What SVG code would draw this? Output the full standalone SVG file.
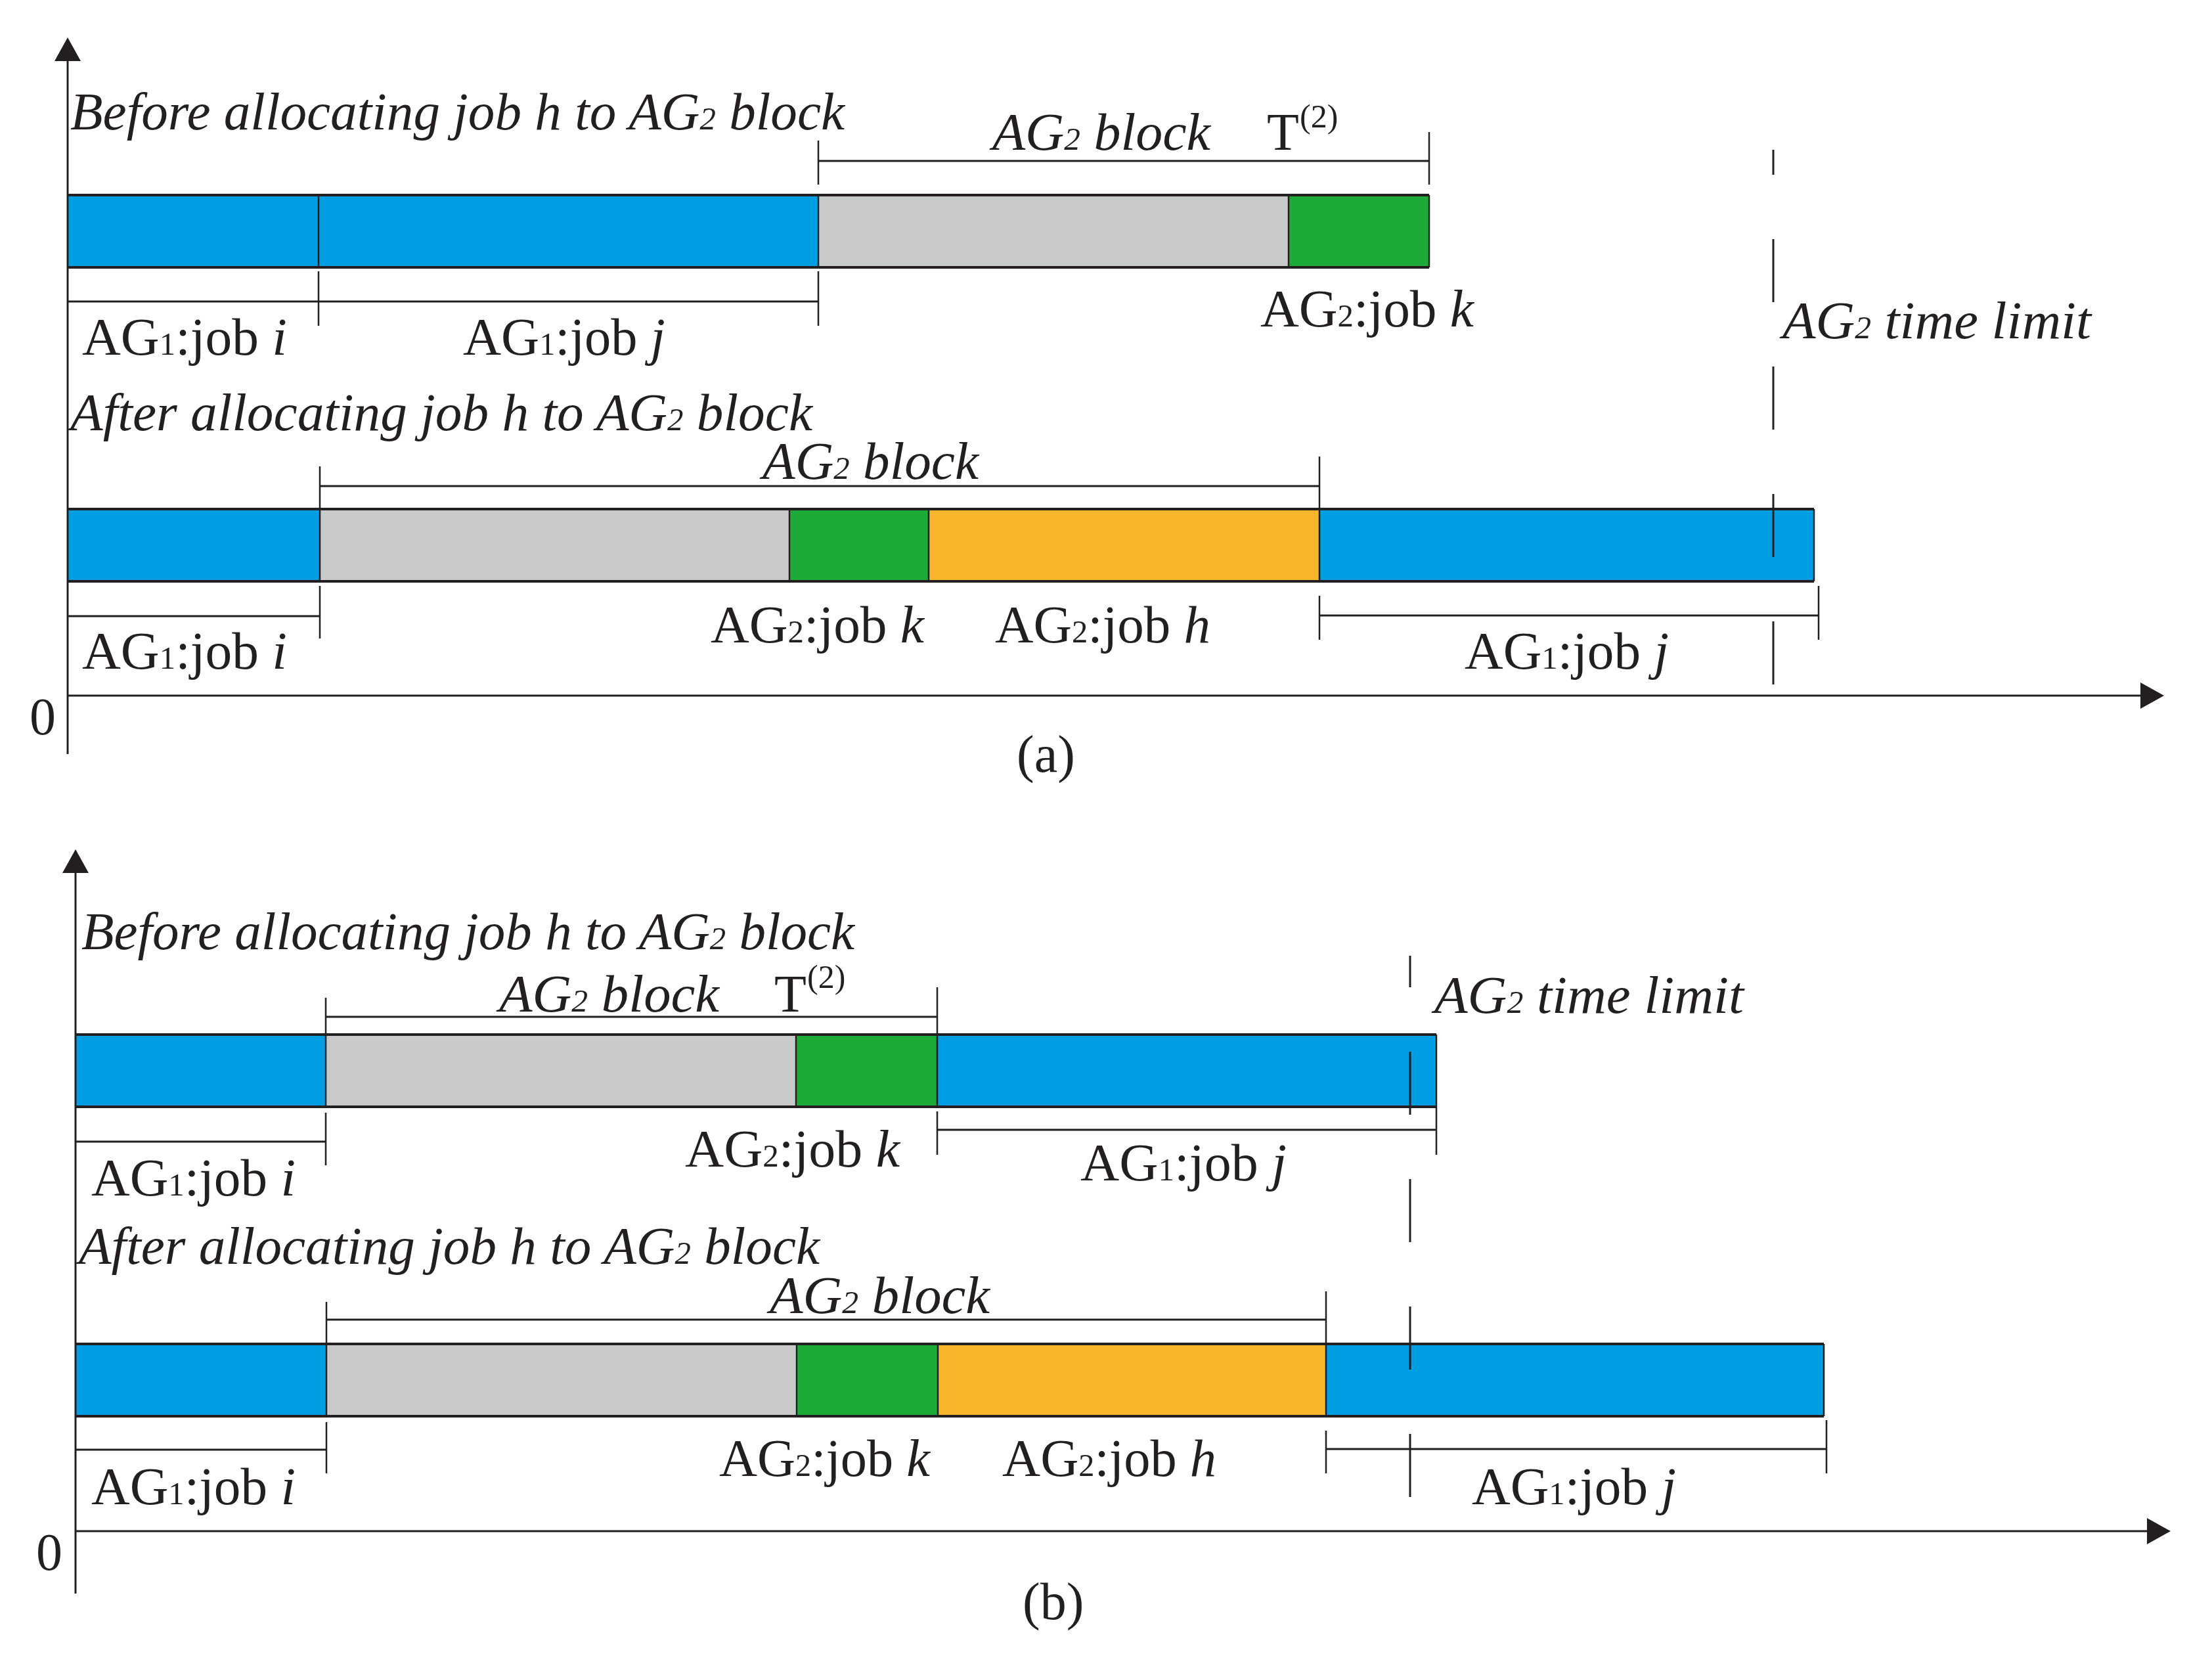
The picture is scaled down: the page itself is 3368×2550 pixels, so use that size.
<svg xmlns="http://www.w3.org/2000/svg" width="3368" height="2550" viewBox="0 0 3368 2550">
<style>
.t{font-family:"Liberation Serif","Times New Roman",serif;font-size:80px;fill:#231f20}
.it{font-style:italic}
.sub{font-size:48px}
.sup{font-size:50px}
.ax{stroke:#231f20;stroke-width:3;fill:none}
.br{stroke:#231f20;stroke-width:3;fill:none}
.tk{stroke:#231f20;stroke-width:2.5;fill:none}
.dash{stroke:#231f20;stroke-width:3;stroke-dasharray:96 98;fill:none}
.edge{stroke:#231f20;stroke-width:4;fill:none}
.div{stroke:#231f20;stroke-width:2.5;fill:none}
.blue{fill:#009fe3}
.gray{fill:#c8caca}
.green{fill:#1eaa39}
.orange{fill:#f7b52c}
</style>
<defs>
<marker id="arr" viewBox="0 0 36 40" refX="0" refY="20" markerWidth="36" markerHeight="40" orient="auto" markerUnits="userSpaceOnUse">
<path d="M0,0 L36,20 L0,40 z" fill="#231f20"/>
</marker>
</defs>
<rect x="0" y="0" width="3368" height="2550" fill="#ffffff"/>

<!-- ===== Panel (a) ===== -->
<g id="a-before-bar">
<rect class="blue" x="103" y="297" width="382" height="110"/>
<rect class="blue" x="485" y="297" width="761" height="110"/>
<rect class="gray" x="1246" y="297" width="716" height="110"/>
<rect class="green" x="1962" y="297" width="214" height="110"/>
<line class="edge" x1="103" y1="297" x2="2176" y2="297"/>
<line class="edge" x1="103" y1="407" x2="2176" y2="407"/>
<line class="div" x1="485" y1="297" x2="485" y2="407"/>
<line class="div" x1="1246" y1="297" x2="1246" y2="407"/>
<line class="div" x1="1962" y1="297" x2="1962" y2="407"/>
<line class="div" x1="2176" y1="297" x2="2176" y2="407"/>
</g>
<g id="a-after-bar">
<rect class="blue" x="103" y="775" width="384" height="110"/>
<rect class="gray" x="487" y="775" width="715" height="110"/>
<rect class="green" x="1202" y="775" width="212" height="110"/>
<rect class="orange" x="1414" y="775" width="595" height="110"/>
<rect class="blue" x="2009" y="775" width="753" height="110"/>
<line class="edge" x1="103" y1="775" x2="2762" y2="775"/>
<line class="edge" x1="103" y1="885" x2="2762" y2="885"/>
<line class="div" x1="487" y1="775" x2="487" y2="885"/>
<line class="div" x1="1202" y1="775" x2="1202" y2="885"/>
<line class="div" x1="1414" y1="775" x2="1414" y2="885"/>
<line class="div" x1="2009" y1="775" x2="2009" y2="885"/>
<line class="div" x1="2762" y1="775" x2="2762" y2="885"/>
</g>

<!-- ===== Panel (b) ===== -->
<g id="b-before-bar">
<rect class="blue" x="115" y="1575" width="381" height="110"/>
<rect class="gray" x="496" y="1575" width="716" height="110"/>
<rect class="green" x="1212" y="1575" width="215" height="110"/>
<rect class="blue" x="1427" y="1575" width="760" height="110"/>
<line class="edge" x1="115" y1="1575" x2="2187" y2="1575"/>
<line class="edge" x1="115" y1="1685" x2="2187" y2="1685"/>
<line class="div" x1="496" y1="1575" x2="496" y2="1685"/>
<line class="div" x1="1212" y1="1575" x2="1212" y2="1685"/>
<line class="div" x1="1427" y1="1575" x2="1427" y2="1685"/>
<line class="div" x1="2187" y1="1575" x2="2187" y2="1685"/>
</g>
<g id="b-after-bar">
<rect class="blue" x="115" y="2046" width="382" height="110"/>
<rect class="gray" x="497" y="2046" width="716" height="110"/>
<rect class="green" x="1213" y="2046" width="215" height="110"/>
<rect class="orange" x="1428" y="2046" width="591" height="110"/>
<rect class="blue" x="2019" y="2046" width="758" height="110"/>
<line class="edge" x1="115" y1="2046" x2="2777" y2="2046"/>
<line class="edge" x1="115" y1="2156" x2="2777" y2="2156"/>
<line class="div" x1="497" y1="2046" x2="497" y2="2156"/>
<line class="div" x1="1213" y1="2046" x2="1213" y2="2156"/>
<line class="div" x1="1428" y1="2046" x2="1428" y2="2156"/>
<line class="div" x1="2019" y1="2046" x2="2019" y2="2156"/>
<line class="div" x1="2777" y1="2046" x2="2777" y2="2156"/>
</g>

<g id="connectors">
<!-- axes (a) -->
<line class="ax" x1="103" y1="1148" x2="103" y2="93" marker-end="url(#arr)"/>
<line class="ax" x1="103" y1="1059" x2="3259" y2="1059" marker-end="url(#arr)"/>
<!-- axes (b) -->
<line class="ax" x1="115" y1="2426" x2="115" y2="1329" marker-end="url(#arr)"/>
<line class="ax" x1="115" y1="2331" x2="3269" y2="2331" marker-end="url(#arr)"/>

<!-- brackets (a) before -->
<line class="br" x1="1246" y1="245" x2="2176" y2="245"/>
<line class="tk" x1="1246" y1="214" x2="1246" y2="281"/>
<line class="tk" x1="2176" y1="201" x2="2176" y2="281"/>
<line class="br" x1="103" y1="459" x2="1246" y2="459"/>
<line class="tk" x1="485" y1="413" x2="485" y2="496"/>
<line class="tk" x1="1246" y1="413" x2="1246" y2="496"/>
<!-- brackets (a) after -->
<line class="br" x1="487" y1="740" x2="2009" y2="740"/>
<line class="tk" x1="487" y1="710" x2="487" y2="775"/>
<line class="tk" x1="2009" y1="695" x2="2009" y2="775"/>
<line class="br" x1="103" y1="938" x2="487" y2="938"/>
<line class="tk" x1="487" y1="892" x2="487" y2="972"/>
<line class="br" x1="2009" y1="937" x2="2769" y2="937"/>
<line class="tk" x1="2009" y1="907" x2="2009" y2="974"/>
<line class="tk" x1="2769" y1="892" x2="2769" y2="974"/>
<!-- time limit (a) -->
<line class="dash" x1="2700" y1="228" x2="2700" y2="1042" stroke-dashoffset="58"/>

<!-- brackets (b) before -->
<line class="br" x1="496" y1="1548" x2="1427" y2="1548"/>
<line class="tk" x1="496" y1="1519" x2="496" y2="1575"/>
<line class="tk" x1="1427" y1="1503" x2="1427" y2="1575"/>
<line class="br" x1="115" y1="1738" x2="496" y2="1738"/>
<line class="tk" x1="496" y1="1694" x2="496" y2="1774"/>
<line class="br" x1="1427" y1="1720" x2="2187" y2="1720"/>
<line class="tk" x1="1427" y1="1692" x2="1427" y2="1758"/>
<line class="tk" x1="2187" y1="1685" x2="2187" y2="1758"/>
<!-- brackets (b) after -->
<line class="br" x1="497" y1="2009" x2="2019" y2="2009"/>
<line class="tk" x1="497" y1="1982" x2="497" y2="2046"/>
<line class="tk" x1="2019" y1="1966" x2="2019" y2="2046"/>
<line class="br" x1="115" y1="2207" x2="497" y2="2207"/>
<line class="tk" x1="497" y1="2165" x2="497" y2="2243"/>
<line class="br" x1="2019" y1="2206" x2="2781" y2="2206"/>
<line class="tk" x1="2019" y1="2178" x2="2019" y2="2243"/>
<line class="tk" x1="2781" y1="2162" x2="2781" y2="2243"/>
<!-- time limit (b) -->
<line class="dash" x1="2147" y1="1455" x2="2147" y2="2280" stroke-dashoffset="48"/>
</g>

<g id="labels-a">
<text class="t it" x="107" y="197" textLength="1179" lengthAdjust="spacingAndGlyphs">Before allocating job h to AG<tspan class="sub">2</tspan> block</text>
<text class="t it" x="1511" y="228" textLength="332" lengthAdjust="spacingAndGlyphs">AG<tspan class="sub">2</tspan> block</text>
<text class="t" x="1929" y="228">T</text>
<text class="t sup" x="1979" y="194">(2)</text>
<text class="t" x="125" y="540" textLength="312" lengthAdjust="spacingAndGlyphs">AG<tspan class="sub">1</tspan>:job <tspan class="it">i</tspan></text>
<text class="t" x="705" y="540" textLength="308" lengthAdjust="spacingAndGlyphs">AG<tspan class="sub">1</tspan>:job <tspan class="it">j</tspan></text>
<text class="t" x="1919" y="497" textLength="325" lengthAdjust="spacingAndGlyphs">AG<tspan class="sub">2</tspan>:job <tspan class="it">k</tspan></text>
<text class="t it" x="2714" y="515" textLength="470" lengthAdjust="spacingAndGlyphs">AG<tspan class="sub">2</tspan> time limit</text>
<text class="t it" x="107" y="655" textLength="1130" lengthAdjust="spacingAndGlyphs">After allocating job h to AG<tspan class="sub">2</tspan> block</text>
<text class="t it" x="1161" y="729" textLength="329" lengthAdjust="spacingAndGlyphs">AG<tspan class="sub">2</tspan> block</text>
<text class="t" x="125" y="1018" textLength="312" lengthAdjust="spacingAndGlyphs">AG<tspan class="sub">1</tspan>:job <tspan class="it">i</tspan></text>
<text class="t" x="1082" y="978" textLength="325" lengthAdjust="spacingAndGlyphs">AG<tspan class="sub">2</tspan>:job <tspan class="it">k</tspan></text>
<text class="t" x="1515" y="978" textLength="328" lengthAdjust="spacingAndGlyphs">AG<tspan class="sub">2</tspan>:job <tspan class="it">h</tspan></text>
<text class="t" x="2230" y="1018" textLength="311" lengthAdjust="spacingAndGlyphs">AG<tspan class="sub">1</tspan>:job <tspan class="it">j</tspan></text>
<text class="t" x="45" y="1118">0</text>
<text class="t" x="1548" y="1175">(a)</text>
</g>

<g id="labels-b">
<text class="t it" x="124" y="1445" textLength="1177" lengthAdjust="spacingAndGlyphs">Before allocating job h to AG<tspan class="sub">2</tspan> block</text>
<text class="t it" x="760" y="1540" textLength="335" lengthAdjust="spacingAndGlyphs">AG<tspan class="sub">2</tspan> block</text>
<text class="t" x="1179" y="1540">T</text>
<text class="t sup" x="1229" y="1504">(2)</text>
<text class="t" x="1043" y="1776" textLength="327" lengthAdjust="spacingAndGlyphs">AG<tspan class="sub">2</tspan>:job <tspan class="it">k</tspan></text>
<text class="t" x="139" y="1820" textLength="311" lengthAdjust="spacingAndGlyphs">AG<tspan class="sub">1</tspan>:job <tspan class="it">i</tspan></text>
<text class="t" x="1645" y="1797" textLength="314" lengthAdjust="spacingAndGlyphs">AG<tspan class="sub">1</tspan>:job <tspan class="it">j</tspan></text>
<text class="t it" x="2184" y="1542" textLength="471" lengthAdjust="spacingAndGlyphs">AG<tspan class="sub">2</tspan> time limit</text>
<text class="t it" x="120" y="1924" textLength="1128" lengthAdjust="spacingAndGlyphs">After allocating job h to AG<tspan class="sub">2</tspan> block</text>
<text class="t it" x="1172" y="1999" textLength="335" lengthAdjust="spacingAndGlyphs">AG<tspan class="sub">2</tspan> block</text>
<text class="t" x="139" y="2290" textLength="311" lengthAdjust="spacingAndGlyphs">AG<tspan class="sub">1</tspan>:job <tspan class="it">i</tspan></text>
<text class="t" x="1095" y="2247" textLength="321" lengthAdjust="spacingAndGlyphs">AG<tspan class="sub">2</tspan>:job <tspan class="it">k</tspan></text>
<text class="t" x="1526" y="2247" textLength="326" lengthAdjust="spacingAndGlyphs">AG<tspan class="sub">2</tspan>:job <tspan class="it">h</tspan></text>
<text class="t" x="2241" y="2290" textLength="311" lengthAdjust="spacingAndGlyphs">AG<tspan class="sub">1</tspan>:job <tspan class="it">j</tspan></text>
<text class="t" x="55" y="2390">0</text>
<text class="t" x="1557" y="2465">(b)</text>
</g>
</svg>
